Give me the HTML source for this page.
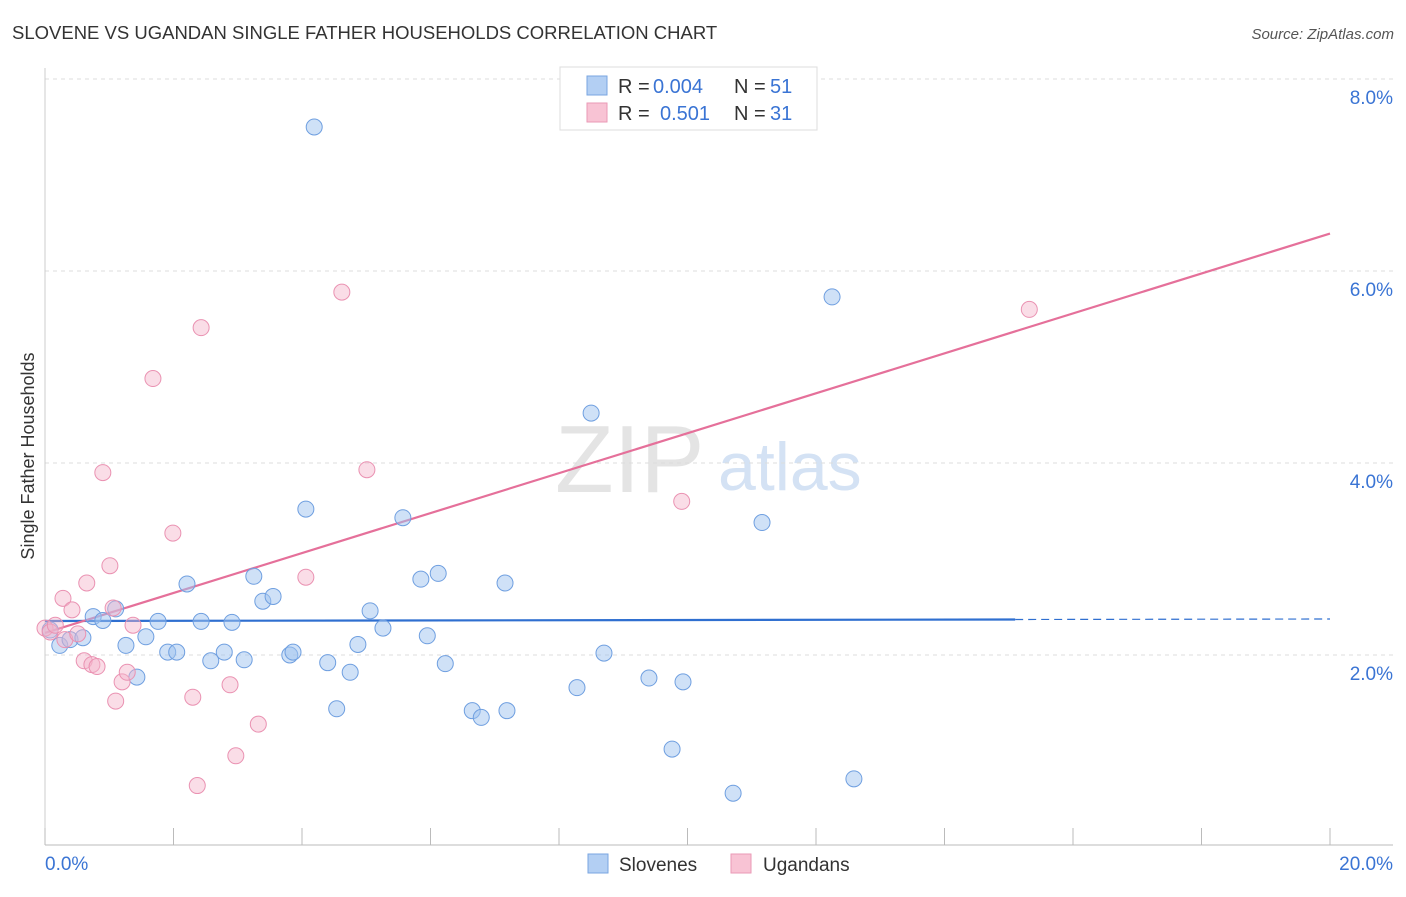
<!DOCTYPE html>
<html><head><meta charset="utf-8"><style>
body{margin:0;background:#fff;font-family:"Liberation Sans",sans-serif;}
svg text{font-family:"Liberation Sans",sans-serif;}
</style></head><body>
<svg id="chart" width="1406" height="892">
<text x="12" y="39" font-size="18.5" fill="#333">SLOVENE VS UGANDAN SINGLE FATHER HOUSEHOLDS CORRELATION CHART</text>
<text x="1394" y="39" font-size="15" fill="#555" font-style="italic" text-anchor="end">Source: ZipAtlas.com</text>
<text x="555" y="492" font-size="96" fill="#e4e4e4" font-family="Liberation Serif">ZIP</text>
<text x="718" y="490" font-size="68" fill="#d4e2f4">atlas</text>
<text x="34" y="456" font-size="18" fill="#333" text-anchor="middle" transform="rotate(-90 34 456)">Single Father Households</text>
<g id="grid"></g><g id="axes"></g><g id="trends"></g><g id="points"></g>
<g>
<rect x="560" y="67" width="257" height="63" fill="#fff" stroke="#ddd"/>
<rect x="587" y="76" width="20" height="19" fill="#b3cff3" stroke="#7aa6e0"/>
<text x="618" y="93" font-size="20" fill="#333">R =</text>
<text x="653" y="93" font-size="20" fill="#3a74d4">0.004</text>
<text x="734" y="93" font-size="20" fill="#333">N =</text>
<text x="770" y="93" font-size="20" fill="#3a74d4">51</text>
<rect x="587" y="103" width="20" height="19" fill="#f8c3d4" stroke="#ea9ab6"/>
<text x="618" y="120" font-size="20" fill="#333">R =</text>
<text x="660" y="120" font-size="20" fill="#3a74d4">0.501</text>
<text x="734" y="120" font-size="20" fill="#333">N =</text>
<text x="770" y="120" font-size="20" fill="#3a74d4">31</text>
</g>
<g>
<rect x="588" y="854" width="20" height="19" fill="#b3cff3" stroke="#7aa6e0"/>
<text x="619" y="871" font-size="19" fill="#333">Slovenes</text>
<rect x="731" y="854" width="20" height="19" fill="#f8c3d4" stroke="#ea9ab6"/>
<text x="763" y="871" font-size="19" fill="#333">Ugandans</text>
</g>
</svg>
<script>
const yTicks=[2,4,6,8];
const yTickLabels=["2.0%","4.0%","6.0%","8.0%"];
const xEndLabels=["0.0%","20.0%"];
const blueX=[0.08,0.23,0.39,0.59,0.75,0.90,1.10,1.26,1.43,1.57,1.76,1.91,2.05,2.21,2.43,2.58,2.79,2.91,3.10,3.25,3.39,3.55,3.81,3.86,4.06,4.19,4.40,4.54,4.75,4.87,5.06,5.26,5.57,5.85,5.95,6.12,6.23,6.65,6.79,7.16,7.19,8.28,8.50,8.70,9.40,9.76,9.93,10.71,11.16,12.25,12.59];
const blueY=[2.26,2.10,2.16,2.18,2.40,2.36,2.48,2.10,1.77,2.19,2.35,2.03,2.03,2.74,2.35,1.94,2.03,2.34,1.95,2.82,2.56,2.61,2.00,2.03,3.52,7.50,1.92,1.44,1.82,2.11,2.46,2.28,3.43,2.79,2.20,2.85,1.91,1.42,1.35,2.75,1.42,1.66,4.52,2.02,1.76,1.02,1.72,0.56,3.38,5.73,0.71];
const pinkX=[0.00,0.08,0.16,0.28,0.31,0.42,0.51,0.61,0.65,0.73,0.81,0.90,1.01,1.06,1.10,1.20,1.28,1.37,1.68,1.99,2.30,2.37,2.43,2.88,2.97,3.32,4.06,4.62,5.01,9.91,15.32];
const pinkY=[2.28,2.24,2.31,2.59,2.16,2.47,2.22,1.94,2.75,1.90,1.88,3.90,2.93,2.49,1.52,1.72,1.82,2.31,4.88,3.27,1.56,0.64,5.41,1.69,0.95,1.28,2.81,5.78,3.93,3.60,5.60];
const blueTrend=[2.354,2.375];
const pinkTrend=[2.23,6.39];
const NS="http://www.w3.org/2000/svg";
const sx=v=>45+v/20*1285, sy=v=>847-v*96;
function mk(p,t,a){const e=document.createElementNS(NS,t);for(const k in a)e.setAttribute(k,a[k]);p.appendChild(e);return e;}
const grid=document.getElementById('grid'),axes=document.getElementById('axes'),tr=document.getElementById('trends'),pts=document.getElementById('points');
yTicks.forEach((v,i)=>{
 const l=mk(grid,'line',{x1:45,x2:1393,y1:sy(v),y2:sy(v),stroke:'#ddd','stroke-dasharray':'4,4'});
 
 
 const t=mk(grid,'text',{x:1393,y:sy(v)+25,'font-size':19,fill:'#3a74d4','text-anchor':'end'});t.textContent=yTickLabels[i];
 
 
});
mk(axes,'line',{x1:45,x2:45,y1:68,y2:845,stroke:'#ccc'});
const xa=mk(axes,'line',{x1:45,x2:1393,y1:845,y2:845,stroke:'#bbb'});


for(let i=0;i<=10;i++){mk(axes,'line',{x1:sx(i*2),x2:sx(i*2),y1:828,y2:845,stroke:'#bbb'});}
[[0,'start',45],[20,'end',1393]].forEach((d,i)=>{const t=mk(axes,'text',{x:d[2],y:870,'font-size':19,fill:'#3a74d4','text-anchor':d[1]});t.textContent=xEndLabels[i];
 
 });
const bt=mk(tr,'line',{x1:sx(0),y1:sy(blueTrend[0]),x2:sx(15.1),y2:sy(blueTrend[0]+(blueTrend[1]-blueTrend[0])*15.1/20),stroke:'#2f6fd0','stroke-width':2.2});


mk(tr,'line',{x1:sx(15.1),y1:sy(blueTrend[0]+(blueTrend[1]-blueTrend[0])*15.1/20),x2:sx(20),y2:sy(blueTrend[1]),stroke:'#2f6fd0','stroke-width':1.2,'stroke-dasharray':'8,5'});
const pt=mk(tr,'line',{x1:sx(0),y1:sy(pinkTrend[0]),x2:sx(20),y2:sy(pinkTrend[1]),stroke:'#e5709a','stroke-width':2.2});


blueX.forEach((x,i)=>{const c=mk(pts,'circle',{cx:sx(x),cy:sy(blueY[i]),r:8,fill:'rgba(160,195,240,0.5)',stroke:'#6f9fe0','stroke-width':1});
 
 });
pinkX.forEach((x,i)=>{const c=mk(pts,'circle',{cx:sx(x),cy:sy(pinkY[i]),r:8,fill:'rgba(245,180,202,0.45)',stroke:'#ea92b2','stroke-width':1});
 
 });
</script>
</body></html>
